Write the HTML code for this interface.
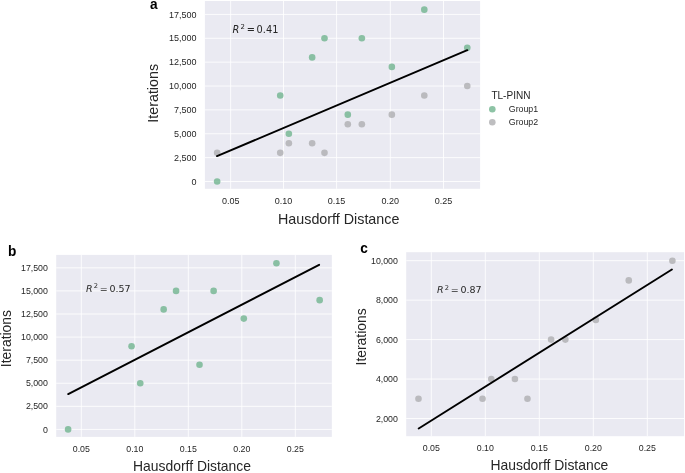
<!DOCTYPE html>
<html><head><meta charset="utf-8"><title>Figure</title>
<style>
html,body{margin:0;padding:0;background:#fff;}
svg{display:block}
text{font-family:"Liberation Sans",sans-serif;fill:#262626}
.lt{font-size:10.05px}
.lg{font-size:8.8px}
.r2{font-family:"DejaVu Sans",sans-serif}
.pn{font-weight:bold;font-size:15.2px;fill:#000}
</style></head><body>
<svg width="685" height="473" viewBox="0 0 685 473">
<rect width="685" height="473" fill="#fff"/>
<rect x="204.9" y="1.0" width="275.20" height="187.80" fill="#eaeaf2"/>
<line x1="230.65" x2="230.65" y1="1.0" y2="188.8" stroke="#fff" stroke-width="0.85"/>
<text x="230.65" y="204.1" class="tk" font-size="9" text-anchor="middle">0.05</text>
<line x1="283.50" x2="283.50" y1="1.0" y2="188.8" stroke="#fff" stroke-width="0.85"/>
<text x="283.50" y="204.1" class="tk" font-size="9" text-anchor="middle">0.10</text>
<line x1="336.60" x2="336.60" y1="1.0" y2="188.8" stroke="#fff" stroke-width="0.85"/>
<text x="336.60" y="204.1" class="tk" font-size="9" text-anchor="middle">0.15</text>
<line x1="390.30" x2="390.30" y1="1.0" y2="188.8" stroke="#fff" stroke-width="0.85"/>
<text x="390.30" y="204.1" class="tk" font-size="9" text-anchor="middle">0.20</text>
<line x1="443.50" x2="443.50" y1="1.0" y2="188.8" stroke="#fff" stroke-width="0.85"/>
<text x="443.50" y="204.1" class="tk" font-size="9" text-anchor="middle">0.25</text>
<line x1="204.9" x2="480.1" y1="181.50" y2="181.50" stroke="#fff" stroke-width="0.85"/>
<text x="196.60" y="184.60" class="tk" font-size="9" text-anchor="end">0</text>
<line x1="204.9" x2="480.1" y1="157.63" y2="157.63" stroke="#fff" stroke-width="0.85"/>
<text x="196.60" y="160.73" class="tk" font-size="9" text-anchor="end">2,500</text>
<line x1="204.9" x2="480.1" y1="133.76" y2="133.76" stroke="#fff" stroke-width="0.85"/>
<text x="196.60" y="136.86" class="tk" font-size="9" text-anchor="end">5,000</text>
<line x1="204.9" x2="480.1" y1="109.89" y2="109.89" stroke="#fff" stroke-width="0.85"/>
<text x="196.60" y="112.99" class="tk" font-size="9" text-anchor="end">7,500</text>
<line x1="204.9" x2="480.1" y1="86.02" y2="86.02" stroke="#fff" stroke-width="0.85"/>
<text x="196.60" y="89.12" class="tk" font-size="9" text-anchor="end">10,000</text>
<line x1="204.9" x2="480.1" y1="62.15" y2="62.15" stroke="#fff" stroke-width="0.85"/>
<text x="196.60" y="65.25" class="tk" font-size="9" text-anchor="end">12,500</text>
<line x1="204.9" x2="480.1" y1="38.28" y2="38.28" stroke="#fff" stroke-width="0.85"/>
<text x="196.60" y="41.38" class="tk" font-size="9" text-anchor="end">15,000</text>
<line x1="204.9" x2="480.1" y1="14.41" y2="14.41" stroke="#fff" stroke-width="0.85"/>
<text x="196.60" y="17.51" class="tk" font-size="9" text-anchor="end">17,500</text>
<circle cx="217.14" cy="152.86" r="3.3" fill="#aeaeb0" fill-opacity="0.8"/>
<circle cx="280.23" cy="152.86" r="3.3" fill="#aeaeb0" fill-opacity="0.8"/>
<circle cx="288.85" cy="143.31" r="3.3" fill="#aeaeb0" fill-opacity="0.8"/>
<circle cx="312.15" cy="143.31" r="3.3" fill="#aeaeb0" fill-opacity="0.8"/>
<circle cx="324.49" cy="152.86" r="3.3" fill="#aeaeb0" fill-opacity="0.8"/>
<circle cx="347.80" cy="124.21" r="3.3" fill="#aeaeb0" fill-opacity="0.8"/>
<circle cx="361.84" cy="124.21" r="3.3" fill="#aeaeb0" fill-opacity="0.8"/>
<circle cx="391.85" cy="114.66" r="3.3" fill="#aeaeb0" fill-opacity="0.8"/>
<circle cx="424.30" cy="95.57" r="3.3" fill="#aeaeb0" fill-opacity="0.8"/>
<circle cx="467.28" cy="86.02" r="3.3" fill="#aeaeb0" fill-opacity="0.8"/>
<circle cx="217.14" cy="181.50" r="3.3" fill="#70b48f" fill-opacity="0.8"/>
<circle cx="280.23" cy="95.57" r="3.3" fill="#70b48f" fill-opacity="0.8"/>
<circle cx="288.85" cy="133.76" r="3.3" fill="#70b48f" fill-opacity="0.8"/>
<circle cx="312.15" cy="57.38" r="3.3" fill="#70b48f" fill-opacity="0.8"/>
<circle cx="324.49" cy="38.28" r="3.3" fill="#70b48f" fill-opacity="0.8"/>
<circle cx="347.80" cy="114.66" r="3.3" fill="#70b48f" fill-opacity="0.8"/>
<circle cx="361.84" cy="38.28" r="3.3" fill="#70b48f" fill-opacity="0.8"/>
<circle cx="391.85" cy="66.92" r="3.3" fill="#70b48f" fill-opacity="0.8"/>
<circle cx="424.30" cy="9.64" r="3.3" fill="#70b48f" fill-opacity="0.8"/>
<circle cx="467.28" cy="47.83" r="3.3" fill="#70b48f" fill-opacity="0.8"/>
<line x1="217" y1="156.1" x2="467.3" y2="50.2" stroke="#000" stroke-width="1.9" stroke-linecap="round"/>
<text y="32.5" class="r2" font-size="9.80"><tspan x="232.5" font-style="italic">R</tspan><tspan x="240.50" dy="-3.60" font-size="6.90">2</tspan><tspan x="246.70" dy="3.60">=</tspan><tspan x="256.60">0.41</tspan></text>
<text transform="translate(158.1,93.30) rotate(-90)" class="lab" font-size="14.3" text-anchor="middle">Iterations</text>
<text x="338.70" y="223.6" class="lab" font-size="14.3" text-anchor="middle">Hausdorff Distance</text>
<text transform="translate(149.9,9.2) scale(0.9,1)" class="pn">a</text>
<rect x="56.2" y="254.9" width="275.65" height="182.00" fill="#eaeaf2"/>
<line x1="81.30" x2="81.30" y1="254.9" y2="436.9" stroke="#fff" stroke-width="0.85"/>
<text x="81.30" y="451.7" class="tk" font-size="8.8" text-anchor="middle">0.05</text>
<line x1="134.80" x2="134.80" y1="254.9" y2="436.9" stroke="#fff" stroke-width="0.85"/>
<text x="134.80" y="451.7" class="tk" font-size="8.8" text-anchor="middle">0.10</text>
<line x1="188.30" x2="188.30" y1="254.9" y2="436.9" stroke="#fff" stroke-width="0.85"/>
<text x="188.30" y="451.7" class="tk" font-size="8.8" text-anchor="middle">0.15</text>
<line x1="241.80" x2="241.80" y1="254.9" y2="436.9" stroke="#fff" stroke-width="0.85"/>
<text x="241.80" y="451.7" class="tk" font-size="8.8" text-anchor="middle">0.20</text>
<line x1="295.30" x2="295.30" y1="254.9" y2="436.9" stroke="#fff" stroke-width="0.85"/>
<text x="295.30" y="451.7" class="tk" font-size="8.8" text-anchor="middle">0.25</text>
<line x1="56.2" x2="331.85" y1="429.40" y2="429.40" stroke="#fff" stroke-width="0.85"/>
<text x="47.90" y="432.50" class="tk" font-size="8.8" text-anchor="end">0</text>
<line x1="56.2" x2="331.85" y1="406.32" y2="406.32" stroke="#fff" stroke-width="0.85"/>
<text x="47.90" y="409.42" class="tk" font-size="8.8" text-anchor="end">2,500</text>
<line x1="56.2" x2="331.85" y1="383.24" y2="383.24" stroke="#fff" stroke-width="0.85"/>
<text x="47.90" y="386.34" class="tk" font-size="8.8" text-anchor="end">5,000</text>
<line x1="56.2" x2="331.85" y1="360.16" y2="360.16" stroke="#fff" stroke-width="0.85"/>
<text x="47.90" y="363.26" class="tk" font-size="8.8" text-anchor="end">7,500</text>
<line x1="56.2" x2="331.85" y1="337.08" y2="337.08" stroke="#fff" stroke-width="0.85"/>
<text x="47.90" y="340.18" class="tk" font-size="8.8" text-anchor="end">10,000</text>
<line x1="56.2" x2="331.85" y1="314.00" y2="314.00" stroke="#fff" stroke-width="0.85"/>
<text x="47.90" y="317.10" class="tk" font-size="8.8" text-anchor="end">12,500</text>
<line x1="56.2" x2="331.85" y1="290.92" y2="290.92" stroke="#fff" stroke-width="0.85"/>
<text x="47.90" y="294.02" class="tk" font-size="8.8" text-anchor="end">15,000</text>
<line x1="56.2" x2="331.85" y1="267.84" y2="267.84" stroke="#fff" stroke-width="0.85"/>
<text x="47.90" y="270.94" class="tk" font-size="8.8" text-anchor="end">17,500</text>
<circle cx="68.11" cy="429.40" r="3.3" fill="#70b48f" fill-opacity="0.8"/>
<circle cx="131.56" cy="346.31" r="3.3" fill="#70b48f" fill-opacity="0.8"/>
<circle cx="140.23" cy="383.24" r="3.3" fill="#70b48f" fill-opacity="0.8"/>
<circle cx="163.66" cy="309.38" r="3.3" fill="#70b48f" fill-opacity="0.8"/>
<circle cx="176.07" cy="290.92" r="3.3" fill="#70b48f" fill-opacity="0.8"/>
<circle cx="199.51" cy="364.78" r="3.3" fill="#70b48f" fill-opacity="0.8"/>
<circle cx="213.63" cy="290.92" r="3.3" fill="#70b48f" fill-opacity="0.8"/>
<circle cx="243.81" cy="318.62" r="3.3" fill="#70b48f" fill-opacity="0.8"/>
<circle cx="276.44" cy="263.22" r="3.3" fill="#70b48f" fill-opacity="0.8"/>
<circle cx="319.67" cy="300.15" r="3.3" fill="#70b48f" fill-opacity="0.8"/>
<line x1="68.2" y1="394.1" x2="319.1" y2="264.8" stroke="#000" stroke-width="1.9" stroke-linecap="round"/>
<text y="291.7" class="r2" font-size="9.49"><tspan x="86.1" font-style="italic">R</tspan><tspan x="93.84" dy="-3.48" font-size="6.68">2</tspan><tspan x="99.85" dy="3.48">=</tspan><tspan x="109.43">0.57</tspan></text>
<text transform="translate(11.2,338.60) rotate(-90)" class="lab" font-size="13.9" text-anchor="middle">Iterations</text>
<text x="192.00" y="470.7" class="lab" font-size="13.9" text-anchor="middle">Hausdorff Distance</text>
<text transform="translate(7.9,256.2) scale(0.9,1)" class="pn">b</text>
<rect x="406.2" y="252.2" width="277.90" height="184.00" fill="#eaeaf2"/>
<line x1="431.30" x2="431.30" y1="252.2" y2="436.2" stroke="#fff" stroke-width="0.85"/>
<text x="431.30" y="451.0" class="tk" font-size="8.8" text-anchor="middle">0.05</text>
<line x1="485.30" x2="485.30" y1="252.2" y2="436.2" stroke="#fff" stroke-width="0.85"/>
<text x="485.30" y="451.0" class="tk" font-size="8.8" text-anchor="middle">0.10</text>
<line x1="539.30" x2="539.30" y1="252.2" y2="436.2" stroke="#fff" stroke-width="0.85"/>
<text x="539.30" y="451.0" class="tk" font-size="8.8" text-anchor="middle">0.15</text>
<line x1="593.30" x2="593.30" y1="252.2" y2="436.2" stroke="#fff" stroke-width="0.85"/>
<text x="593.30" y="451.0" class="tk" font-size="8.8" text-anchor="middle">0.20</text>
<line x1="647.30" x2="647.30" y1="252.2" y2="436.2" stroke="#fff" stroke-width="0.85"/>
<text x="647.30" y="451.0" class="tk" font-size="8.8" text-anchor="middle">0.25</text>
<line x1="406.2" x2="684.1" y1="418.50" y2="418.50" stroke="#fff" stroke-width="0.85"/>
<text x="397.90" y="421.60" class="tk" font-size="8.8" text-anchor="end">2,000</text>
<line x1="406.2" x2="684.1" y1="379.05" y2="379.05" stroke="#fff" stroke-width="0.85"/>
<text x="397.90" y="382.15" class="tk" font-size="8.8" text-anchor="end">4,000</text>
<line x1="406.2" x2="684.1" y1="339.60" y2="339.60" stroke="#fff" stroke-width="0.85"/>
<text x="397.90" y="342.70" class="tk" font-size="8.8" text-anchor="end">6,000</text>
<line x1="406.2" x2="684.1" y1="300.15" y2="300.15" stroke="#fff" stroke-width="0.85"/>
<text x="397.90" y="303.25" class="tk" font-size="8.8" text-anchor="end">8,000</text>
<line x1="406.2" x2="684.1" y1="260.70" y2="260.70" stroke="#fff" stroke-width="0.85"/>
<text x="397.90" y="263.80" class="tk" font-size="8.8" text-anchor="end">10,000</text>
<circle cx="418.48" cy="398.77" r="3.3" fill="#aeaeb0" fill-opacity="0.8"/>
<circle cx="482.53" cy="398.77" r="3.3" fill="#aeaeb0" fill-opacity="0.8"/>
<circle cx="491.28" cy="379.05" r="3.3" fill="#aeaeb0" fill-opacity="0.8"/>
<circle cx="514.93" cy="379.05" r="3.3" fill="#aeaeb0" fill-opacity="0.8"/>
<circle cx="527.46" cy="398.77" r="3.3" fill="#aeaeb0" fill-opacity="0.8"/>
<circle cx="551.11" cy="339.60" r="3.3" fill="#aeaeb0" fill-opacity="0.8"/>
<circle cx="565.36" cy="339.60" r="3.3" fill="#aeaeb0" fill-opacity="0.8"/>
<circle cx="595.82" cy="319.88" r="3.3" fill="#aeaeb0" fill-opacity="0.8"/>
<circle cx="628.76" cy="280.42" r="3.3" fill="#aeaeb0" fill-opacity="0.8"/>
<circle cx="672.39" cy="260.70" r="3.3" fill="#aeaeb0" fill-opacity="0.8"/>
<line x1="418.7" y1="428.5" x2="671.9" y2="269.5" stroke="#000" stroke-width="1.9" stroke-linecap="round"/>
<text y="293.0" class="r2" font-size="9.49"><tspan x="437.1" font-style="italic">R</tspan><tspan x="444.84" dy="-3.48" font-size="6.68">2</tspan><tspan x="450.85" dy="3.48">=</tspan><tspan x="460.43">0.87</tspan></text>
<text transform="translate(366.2,336.90) rotate(-90)" class="lab" font-size="13.9" text-anchor="middle">Iterations</text>
<text x="549.40" y="469.6" class="lab" font-size="13.9" text-anchor="middle">Hausdorff Distance</text>
<text transform="translate(360.3,252.7) scale(0.9,1)" class="pn">c</text>
<text x="491.4" y="98.6" class="lt">TL-PINN</text>
<circle cx="492.3" cy="109.2" r="3.3" fill="#70b48f" fill-opacity="0.8"/><circle cx="492.3" cy="122.3" r="3.3" fill="#aeaeb0" fill-opacity="0.8"/>
<text x="508.8" y="111.8" class="lg">Group1</text><text x="508.8" y="125" class="lg">Group2</text>
</svg>
</body></html>
